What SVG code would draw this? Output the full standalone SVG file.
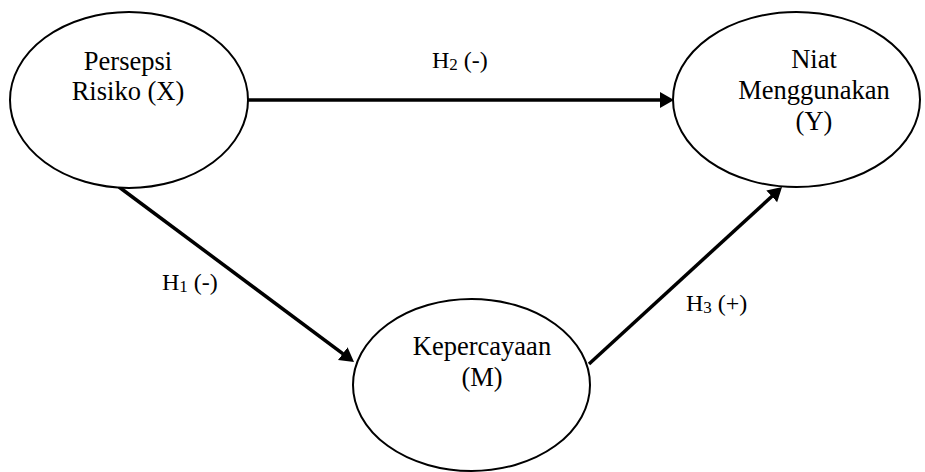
<svg xmlns="http://www.w3.org/2000/svg" width="925" height="472" viewBox="0 0 925 472">
<style>
.node{fill:#fff;stroke:#000;stroke-width:2}
.t{font-family:"Liberation Serif","Times New Roman",serif;font-size:26.5px;fill:#000;text-anchor:middle}
.lbl{font-family:"Liberation Serif","Times New Roman",serif;font-size:24px;fill:#000}
.sub{font-size:17px}
.edge{stroke:#000;stroke-width:3.5;fill:none}
</style>
<defs>
<marker id="arr" markerUnits="userSpaceOnUse" markerWidth="16" markerHeight="18" refX="10" refY="8" orient="auto">
<path d="M0,0 L14,8 L0,16 z" fill="#000"/>
</marker>
</defs>
<rect width="925" height="472" fill="#fff"/>
<g id="connectors">
<line class="edge" x1="248" y1="100" x2="670" y2="100" marker-end="url(#arr)"/>
<line class="edge" x1="119" y1="187" x2="350.8" y2="359.6" marker-end="url(#arr)"/>
<line class="edge" x1="589" y1="364" x2="779.1" y2="189.7" marker-end="url(#arr)"/>
</g>
<g id="labels">
<text class="lbl" x="432" y="68">H<tspan class="sub" dy="2">2</tspan><tspan dy="-2"> (-)</tspan></text>
<text class="lbl" x="162" y="290">H<tspan class="sub" dy="2">1</tspan><tspan dy="-2"> (-)</tspan></text>
<text class="lbl" x="686" y="311">H<tspan class="sub" dy="2">3</tspan><tspan dy="-2"> (+)</tspan></text>
</g>
<g id="node-x">
<ellipse class="node" cx="129" cy="100" rx="119" ry="88"/>
<text class="t" x="128" y="70">Persepsi</text>
<text class="t" x="128" y="100">Risiko (X)</text>
</g>
<g id="node-y">
<ellipse class="node" cx="796.5" cy="99.5" rx="123.5" ry="87.5"/>
<text class="t" x="814" y="68">Niat</text>
<text class="t" x="814" y="99">Menggunakan</text>
<text class="t" x="814" y="130">(Y)</text>
</g>
<g id="node-m">
<ellipse class="node" cx="471.5" cy="385" rx="118.5" ry="86"/>
<text class="t" x="482" y="355">Kepercayaan</text>
<text class="t" x="482" y="386">(M)</text>
</g>
</svg>
